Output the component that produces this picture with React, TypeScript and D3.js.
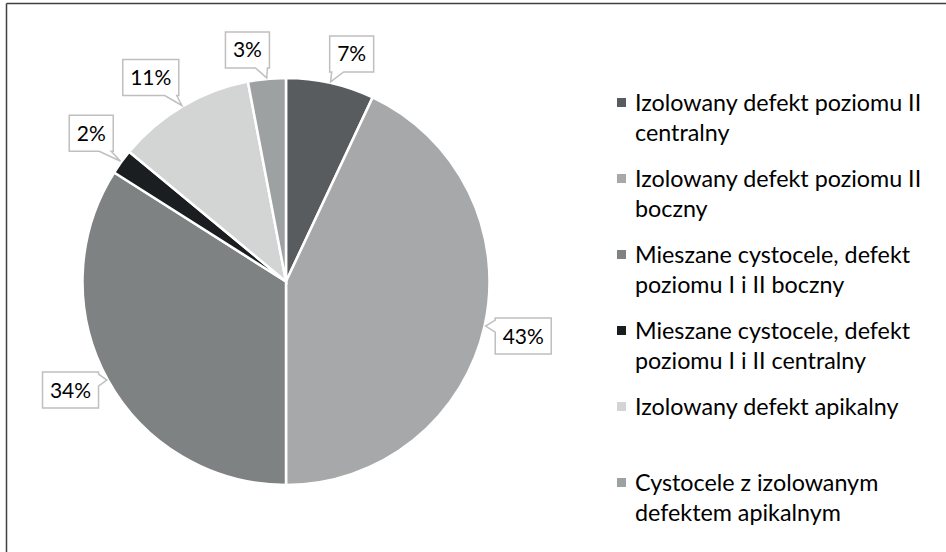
import React from "react";
import * as d3 from "d3";

const categories = [
  "Izolowany defekt poziomu II\ncentralny",
  "Izolowany defekt poziomu II\nboczny",
  "Mieszane cystocele, defekt\npoziomu I i II boczny",
  "Mieszane cystocele, defekt\npoziomu I i II centralny",
  "Izolowany defekt apikalny",
  "Cystocele z izolowanym\ndefektem apikalnym",
];
const values = [7, 43, 34, 2, 11, 3];
const labels = ["7%", "43%", "34%", "2%", "11%", "3%"];
const colors = ["#595c5e", "#a6a8a9", "#7f8283", "#1b1e20", "#d3d4d4", "#9ea1a2"];

const W = 946;
const H = 552;
const cx = 286;
const cy = 281.5;
const R = 203.5;
const FONT = "Lato, 'Open Sans', sans-serif";

function calloutPath(x0: number, y0: number, x1: number, y1: number, tx: number, ty: number) {
  const dxOut = tx < x0 ? x0 - tx : tx > x1 ? tx - x1 : 0;
  const dyOut = ty < y0 ? y0 - ty : ty > y1 ? ty - y1 : 0;
  const half = 6;
  const clamp = (v: number, a: number, b: number) => Math.max(a, Math.min(b, v));
  if (dyOut >= dxOut) {
    const bx = clamp(tx, x0 + half + 2, x1 - half - 2);
    if (ty > y1) {
      return `M${x0},${y0}H${x1}V${y1}H${bx + half}L${tx},${ty}L${bx - half},${y1}H${x0}Z`;
    }
    return `M${x0},${y0}H${bx - half}L${tx},${ty}L${bx + half},${y0}H${x1}V${y1}H${x0}Z`;
  } else {
    const by = clamp(ty, y0 + half + 2, y1 - half - 2);
    if (tx > x1) {
      return `M${x0},${y0}H${x1}V${by - half}L${tx},${ty}L${x1},${by + half}V${y1}H${x0}Z`;
    }
    return `M${x0},${y0}H${x1}V${y1}H${x0}V${by + half}L${tx},${ty}L${x0},${by - half}Z`;
  }
}

export default function App() {
  const pie = d3.pie<number>().sort(null).value((d) => d)(values);
  const arc = d3.arc<d3.PieArcDatum<number>>().innerRadius(0).outerRadius(R);
  const tipArc = d3.arc<d3.PieArcDatum<number>>().innerRadius(R + 1).outerRadius(R + 1);

  const legendX = 617;
  const legendY0 = 98;
  const legendStep = 76;
  const lineH = 30;

  return (
    <svg
      width={W}
      height={H}
      style={{ position: "absolute", left: 0, top: 0, background: "#fff" }}
    >
      <rect x={0} y={0} width={W} height={H} fill="#fff" />
      <line x1={6.5} y1={3.5} x2={W} y2={3.5} stroke="#404040" strokeWidth={1.5} />
      <line x1={6.5} y1={3.5} x2={6.5} y2={H} stroke="#404040" strokeWidth={1.5} />

      <g transform={`translate(${cx},${cy})`}>
        {pie.map((p, i) => (
          <path key={i} d={arc(p) || ""} fill={colors[i]} stroke="#fff" strokeWidth={2.5} />
        ))}
      </g>

      {pie.map((p, i) => {
        const [tx0, ty0] = tipArc.centroid(p);
        const tx = cx + tx0;
        const ty = cy + ty0;
        const mid = (p.startAngle + p.endAngle) / 2;
        const s = Math.sin(mid);
        const c = Math.cos(mid);
        const w = 20 + 12 * labels[i].length;
        const h = 36;
        const gx = 14 * Math.abs(s) - 4;
        const x0 = s >= 0 ? tx + gx : tx - gx - w;
        const y0 = c > 0 ? ty - 10 - h : ty - 8;
        const bcx = x0 + w / 2;
        const bcy = y0 + h / 2;
        return (
          <g key={i}>
            <path
              d={calloutPath(x0, y0, x0 + w, y0 + h, tx, ty)}
              fill="#fff"
              stroke="#bfbfbf"
              strokeWidth={1.5}
              strokeLinejoin="miter"
            />
            <text
              x={bcx}
              y={bcy + 7.5}
              textAnchor="middle"
              fontFamily={FONT}
              fontSize={21}
              fill="#000"
            >
              {labels[i]}
            </text>
          </g>
        );
      })}

      {categories.map((c, i) => {
        const y = legendY0 + legendStep * i;
        const lines = c.split("\n");
        return (
          <g key={i}>
            <rect x={legendX} y={y} width={9} height={9} fill={colors[i]} />
            <text fontFamily={FONT} fontSize={23.3} fill="#000">
              {lines.map((ln, j) => (
                <tspan key={j} x={legendX + 18} y={y + 13 + j * lineH}>
                  {ln}
                </tspan>
              ))}
            </text>
          </g>
        );
      })}
    </svg>
  );
}
